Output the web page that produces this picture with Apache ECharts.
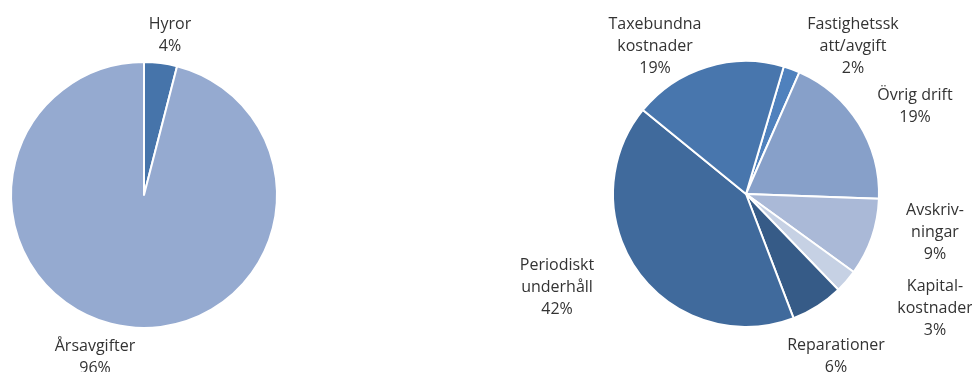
<!DOCTYPE html>
<html>
<head>
<meta charset="utf-8">
<script src="https://cdn.jsdelivr.net/npm/echarts@6/dist/echarts.min.js"></script>
<style>
  html, body { margin: 0; padding: 0; background: #fff; }
  #chart { width: 972px; height: 372px; }
</style>
</head>
<body>
<div id="chart"></div>
<script>
// left pie: income
const incomeNames = ['Hyror', 'Årsavgifter'];
const incomeValues = [4, 96];
const incomeColors = ['#4674aa', '#95aad0'];

// right pie: costs (clockwise order)
const costNames = [
  'Fastighetssk\natt/avgift',
  'Övrig drift',
  'Avskriv-\nningar',
  'Kapital-\nkostnader',
  'Reparationer',
  'Periodiskt\nunderhåll',
  'Taxebundna\nkostnader'
];
const costValues = [2.0, 19.0, 9.4, 2.8, 6.4, 41.7, 18.7];
const costColors = ['#4f81bd', '#87a0c9', '#aab9d7', '#c6d1e4', '#365b87', '#406a9c', '#4876ad'];

// label centres (px), picked by hand like the original's manual placement
const incomeLabelAt = [[170, 35], [95, 357]];
const costLabelAt = [[853, 46], [915, 106], [935, 232], [935, 308], [836, 356], [557, 287], [655, 46]];

const chart = echarts.init(document.getElementById('chart'));

const labelStyle = {
  show: true,
  color: '#333',
  fontFamily: 'Open Sans',
  fontSize: 16,
  lineHeight: 22,
  align: 'center',
  overflow: 'none',
  formatter: (p) => p.name + '\n' + Math.round(p.value) + '%'
};

function spots(list) {
  return (params) => {
    const s = list[params.dataIndex];
    return { x: s[0], y: s[1], align: 'center', verticalAlign: 'middle' };
  };
}

chart.setOption({
  animation: false,
  series: [
    {
      type: 'pie',
      center: [144, 195],
      radius: 133,
      startAngle: 90,
      clockwise: true,
      itemStyle: { borderColor: '#fff', borderWidth: 2 },
      label: labelStyle,
      labelLine: { show: false },
      labelLayout: spots(incomeLabelAt),
      emphasis: { disabled: true },
      data: incomeNames.map((n, i) => ({ name: n, value: incomeValues[i], itemStyle: { color: incomeColors[i] } }))
    },
    {
      type: 'pie',
      center: [746, 194],
      radius: 133,
      startAngle: 73.5,
      clockwise: true,
      itemStyle: { borderColor: '#fff', borderWidth: 2 },
      label: labelStyle,
      labelLine: { show: false },
      labelLayout: spots(costLabelAt),
      emphasis: { disabled: true },
      data: costNames.map((n, i) => ({ name: n, value: costValues[i], itemStyle: { color: costColors[i] } }))
    }
  ]
});
</script>
</body>
</html>
